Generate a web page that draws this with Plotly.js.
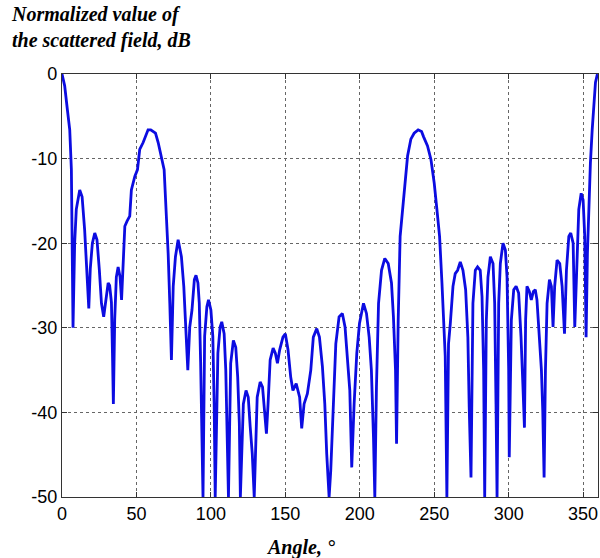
<!DOCTYPE html>
<html>
<head>
<meta charset="utf-8">
<script src="https://cdn.plot.ly/plotly-3.0.1.min.js"></script>
<style>html,body{margin:0;padding:0;background:#fff;}#chart{width:600px;height:558px;}</style>
</head>
<body>
<div id="chart"></div>
<script>
const angle = [0,1.8,3.6,5.2,6.3,6.7,7.4,8.5,9.6,11.9,13.5,15.2,17,18,19,20.4,22,23.5,25.1,26.5,28,29.4,31,32,33.2,33.9,34.5,35.4,36.5,37.7,39,40,41,42.2,43.7,45.5,46.6,48.9,50.7,52.2,54.5,56,57.8,59.6,61.2,62.8,64.6,66.8,68.6,70.2,71.3,72.4,73.5,74.7,76.2,78,80.2,81.8,82.9,84.5,85.8,87.3,88.9,90,91.3,92.2,93.1,94,94.7,95.8,97.3,98.4,100,101.3,102.2,102.9,104.7,106.2,107.3,108.9,110,111.8,113.3,115.1,116.7,118,119.1,119.8,121.8,123.6,125.1,126.4,127.8,129.1,131.1,133.1,134.7,136.2,137.3,138.4,139.8,141.8,143.3,144.7,146.2,148.4,150,151.8,153.6,155.1,157.3,159.6,161,162.6,164.8,167.1,168.8,171.1,172.9,174.9,176.5,177.8,179.4,180.5,182.3,183.9,186.1,188.3,190.1,191.7,193.3,194.6,196.2,198,199.8,202.5,204.5,206.3,207.8,209.2,210.1,211.2,212.6,214.6,216.8,219.1,221.3,222.6,224,224.7,225.8,227.1,228.9,230.3,232.1,234.3,236.5,239.2,241.5,242.8,245.5,247.8,250,251.8,253.6,255.2,256.3,257.4,258.5,259.6,260.8,262.6,264.1,265.7,267.5,269.3,271.1,272.6,273.5,274.7,276,277.6,279.1,280.9,282.1,283.2,283.9,285,286.1,287.7,289.5,290.6,291.5,292.2,293.3,294.4,296.2,297.8,298.9,300,300.4,301.8,303.4,305,306.7,308.3,309.6,310.6,311.4,312.3,313.9,315.2,316.6,317.9,319,320.6,322,322.9,323.8,324.7,325.8,327.4,328.7,329.8,330.9,332.5,334.3,335.9,337.5,338.8,340.4,341.7,343.3,344.4,345.5,347.1,348.7,350,351.1,352,352.9,353.8,354.9,356.1,357.2,358.3,359.6];
const fieldDb = [0,-1.4,-4.2,-6.6,-11.3,-16,-30,-20,-16,-13.7,-14.5,-18.4,-24,-27.7,-23,-20,-18.8,-19.6,-23.2,-27.1,-28.7,-27.1,-24.7,-25,-27,-33,-39,-29,-24,-22.8,-24,-26.7,-22.4,-18,-17.4,-16.8,-13.7,-12.1,-11.3,-8.9,-8.1,-7.4,-6.6,-6.6,-6.8,-7,-8.1,-10.1,-11.3,-17.2,-21.2,-27.1,-33.8,-25.1,-21.6,-19.6,-21.6,-25.1,-29,-35,-29.9,-27.9,-24.3,-23.8,-24.7,-27.1,-34,-42,-50,-31,-27.5,-26.7,-27.9,-31,-39,-50,-33,-29.9,-29.3,-30.7,-35,-50,-34.2,-31.5,-32.3,-35.8,-41.3,-50,-39,-37.4,-38.2,-41.7,-44.9,-50,-38.2,-36.4,-37,-40.2,-42.5,-39,-33.8,-32.4,-33,-34.2,-32.6,-31.1,-30.7,-32.6,-35.8,-37.4,-36.6,-38.2,-41.9,-39,-37.8,-35,-31.1,-30.1,-31.1,-34.6,-39,-44.9,-50,-46.9,-39,-31.9,-28.7,-28.3,-29.9,-33.8,-37.4,-46.5,-39,-33,-29.5,-27.1,-28.3,-31.1,-35,-42.9,-50,-37,-27.1,-23.2,-21.8,-22.4,-24.7,-28.7,-35,-43.7,-29.1,-19.2,-16,-12.9,-9.7,-7.7,-7,-6.6,-6.8,-7.4,-8.5,-10.1,-12.9,-16,-19.2,-24.7,-29.1,-33.4,-50,-31.9,-29.5,-25.1,-23.6,-23.2,-22.2,-23.2,-25.5,-31.1,-39.4,-47.7,-27.1,-23.2,-22.8,-23.2,-26.3,-35,-50,-29.1,-24,-21.6,-22.4,-27.1,-39,-50,-27.1,-22.4,-20,-20.8,-24,-35,-45.3,-29.1,-25.5,-25.1,-25.9,-31.1,-37,-41.8,-29,-25.1,-25.7,-26.7,-25.7,-25.5,-26.7,-30.7,-35,-39.8,-47.7,-35,-27.1,-24.3,-25.1,-29.9,-25.1,-22,-22.4,-25.1,-30.7,-23.2,-19.2,-18.8,-20,-29.9,-23.2,-16,-14.1,-14.9,-19.2,-31.1,-21.2,-15.3,-10.5,-6.6,-3,-1,0];
const xTicks = [0,50,100,150,200,250,300,350];
const yTicks = [0,-10,-20,-30,-40,-50];
const yTitle = 'Normalized value of<br>the scattered field, dB';
const xTitle = 'Angle, °';

const axisCommon = {
  showline: true, linecolor: '#333', linewidth: 1.2, mirror: 'ticks',
  ticks: 'inside', ticklen: 5, tickcolor: '#333',
  showgrid: true, gridcolor: '#666', griddash: 'dot', gridwidth: 1,
  zeroline: false,
  tickfont: {family: 'Liberation Sans, Arial, sans-serif', size: 18, color: '#000'}
};

Plotly.newPlot('chart', [{
  x: angle, y: fieldDb, type: 'scatter', mode: 'lines',
  line: {color: 'rgb(12,12,225)', width: 2.8}, hoverinfo: 'skip'
}], {
  width: 600, height: 558,
  margin: {l: 62, r: 2, t: 74, b: 61},
  paper_bgcolor: '#fff', plot_bgcolor: '#fff',
  showlegend: false,
  xaxis: Object.assign({}, axisCommon, {range: [0, 360], tickvals: xTicks, ticktext: xTicks.map(String)}),
  yaxis: Object.assign({}, axisCommon, {range: [-50, 0], tickvals: yTicks, ticktext: yTicks.map(String)}),
  annotations: [
    {xref: 'paper', yref: 'paper', x: -0.099, y: 1.0, yshift: 73, xanchor: 'left', yanchor: 'top', align: 'left',
     showarrow: false, text: '<b><i>' + yTitle + '</i></b>',
     font: {family: 'Liberation Serif, Times New Roman, serif', size: 20, color: '#000'}},
    {xref: 'paper', yref: 'paper', x: 0.445, y: 0, yshift: -37, xanchor: 'center', yanchor: 'top',
     showarrow: false, text: '<b><i>' + xTitle + '</i></b>',
     font: {family: 'Liberation Serif, Times New Roman, serif', size: 20, color: '#000'}}
  ]
}, {staticPlot: true});
</script>
</body>
</html>
